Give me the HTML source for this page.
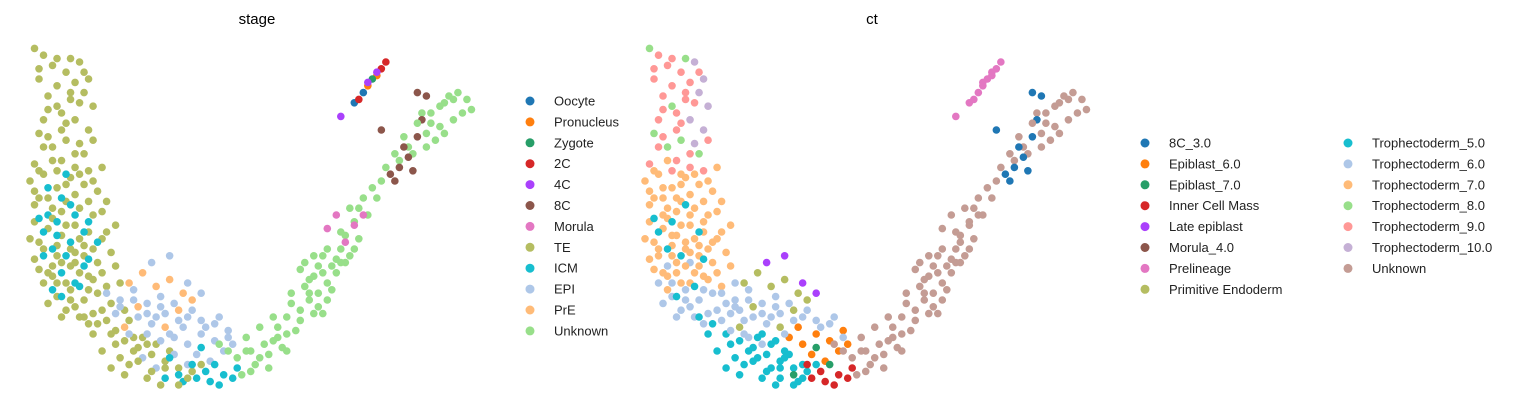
<!DOCTYPE html>
<html><head><meta charset="utf-8"><style>
html,body{margin:0;padding:0;background:#fff;}
svg{display:block;font-family:"Liberation Sans","DejaVu Sans",sans-serif;}
</style></head><body>
<svg id="chart" width="1531" height="411">
<text x="257" y="24" font-size="15" text-anchor="middle" fill="#000">stage</text>
<text x="872" y="24" font-size="15" text-anchor="middle" fill="#000">ct</text>
<g id="p1"></g>
<g id="p2"></g>
<g id="lg1"></g>
<g id="lg2"></g>
</svg>
<script>
const stageCats = ["Oocyte","Pronucleus","Zygote","2C","4C","8C","Morula","TE","ICM","EPI","PrE","Unknown"];
const stageColors = ["#1f77b4","#ff7f0e","#279e68","#d62728","#aa40fc","#8c564b","#e377c2","#b5bd61","#17becf","#aec7e8","#ffbb78","#98df8a"];
const ctCats = ["8C_3.0","Epiblast_6.0","Epiblast_7.0","Inner Cell Mass","Late epiblast","Morula_4.0","Prelineage","Primitive Endoderm","Trophectoderm_5.0","Trophectoderm_6.0","Trophectoderm_7.0","Trophectoderm_8.0","Trophectoderm_9.0","Trophectoderm_10.0","Unknown"];
const ctColors = ["#1f77b4","#ff7f0e","#279e68","#d62728","#aa40fc","#8c564b","#e377c2","#b5bd61","#17becf","#aec7e8","#ffbb78","#98df8a","#ff9896","#c5b0d5","#c49c94"];
// groups: [stage index, ct index, flat list of x,y embedding coordinates]
const groupStage = [7,7,7,7,7,7,8,7,9,9,9,10,8,8,8,11,11,5,0,1,2,3,4,6,9,7,7,7,8,11,7,9];
const groupCt = [12,13,11,12,10,9,10,8,9,1,8,7,3,2,8,14,14,0,6,6,6,6,6,14,4,12,10,9,8,14,8,9];
const groupXY = [
[3,97,5,94,8,92,2,90,6,88,10,89,4,85,9,84,7,80,3,78],
[11,95,13,90,12,86,14,82,10,78,13,75,11,71],
[1,99,9,96,6,82,2,74,8,72,5,70,12,68],
[4,73,7,66,1,65,10,64,13,63],
[0,60,3,62,6,58,9,61,12,59,15,57,2,55,5,52,8,54,11,52,14,50,1,48,4,46,7,44,10,47,13,45,16,43,3,40,6,38,9,40,12,38,15,36,18,39,2,34,5,32,8,30,11,33,14,31,17,29,1,57,17,54,0,43],
[3,30,6,26,9,28,12,25,15,27,18,24,21,22,8,22,11,20,14,21,17,19,20,30,5,35,10,36],
[4,58,7,55,10,50,13,48,6,44,9,42,3,38,12,35,7,33,15,42,5,28,10,30,4,50,8,62],
[12,20,15,18,18,15,21,13,24,11,27,9,30,7,33,5,36,4,16,10,20,8,14,15,25,14,28,12,22,6,31,10],
[17,27,20,25,23,28,26,24,29,26,24,20,27,18,30,21,33,19,36,22,39,17,42,20,19,21],
[32,14,35,12,38,15,41,13,44,16,37,9,40,7,43,10,34,17,45,12],
[26,15,29,13,32,9,35,6,28,5,25,8],
[22,30,25,33,28,29,31,31,34,27,24,23,30,17,33,22,36,25,21,17],
[37,2,40,1,43,3,46,5,39,4,42,0,45,2,36,6],
[33,3,38,11,41,6],
[30,2,34,1,31,8],
[46,8,49,10,52,12,55,14,50,6,53,9,56,11,59,16,57,20,60,22,62,25,58,27,61,29,64,27,66,30,63,32,67,35,60,34,65,38,69,40,68,33,70,44,72,48,71,52,74,55,75,50,73,43,76,58,78,60,82,66,85,68,88,70,90,72,92,74,89,77,94,78,96,80,91,82,98,81,93,85,95,86,87,80,84,70,48,14,44,10,51,17,65,21],
[61,36,63,38,66,40,69,36,71,38,67,28,64,23,54,20,47,3,42,12],
[80,62,82,64,84,67,81,60,83,70,86,73,85,63,87,78,88,85,86,86,78,75],
[72,83,74,86],
[75,88,77,91],
[76,90],
[73,84,78,93,79,95],
[77,92,75,89,69,79],
[66,46,70,42,72,47,74,50,68,50],
[27,36,31,38,35,30,38,27],
[2,93,6,96,4,81,8,77,11,83,3,70,7,75,10,68,14,72,6,63,9,86,12,92],
[1,53,4,55,7,51,10,56,13,54,16,51,19,47,2,42,5,49,8,47,11,43,14,40,17,45,19,35,1,37,4,33,7,36,10,39,13,32,16,33,6,41,9,35,12,41,2,63,5,66,8,59,11,62,14,60,16,64],
[4,24,7,20,10,23,13,18,16,22,19,16,22,19,23,14,26,12,6,30,9,25,13,28],
[3,45,6,48,9,53,12,45,5,40,8,38,2,49,11,29,13,37,7,26],
[48,10,51,8,54,13,57,15,60,19,63,21,58,24,62,31,65,33,68,37,64,35,70,36,72,40,69,45,73,52,77,55,79,64,81,68,83,73,86,77,89,80,92,83,94,84,97,84,91,76,88,74,55,17,57,10,53,5,49,4,62,27,66,25],
[18,5,21,3,24,7,27,4,30,5,33,0,35,2,38,6,26,2,29,0,23,10,19,12],
[20,23,23,25,26,21,29,23,32,24,35,20,38,19,41,18,44,14,22,15,28,20,31,15]
];
const NS="http://www.w3.org/2000/svg";
function xScale(v,left){return left+8+v*4.55*0.99;}
function yScale(v){return 385-v*3.4;}
function drawPanel(gid,left,useCt){
  const g=document.getElementById(gid);
  groupXY.forEach((arr,gi)=>{
    const col = useCt ? ctColors[groupCt[gi]] : stageColors[groupStage[gi]];
    for(let i=0;i<arr.length;i+=2){
      const c=document.createElementNS(NS,"circle");
      c.setAttribute("cx",xScale(arr[i],left));
      c.setAttribute("cy",yScale(arr[i+1]));
      c.setAttribute("r",3.8);
      c.setAttribute("fill",col);
      
      
      g.appendChild(c);
    }
  });
}
drawPanel("p1",22,false);
drawPanel("p2",637,true);
function legend(gid,cats,cols,mx,y0,perCol,colGap){
  const g=document.getElementById(gid);
  cats.forEach((name,i)=>{
    const col=Math.floor(i/perCol), row=i%perCol;
    const x=mx+col*colGap, y=y0+row*20.9;
    const c=document.createElementNS(NS,"circle");
    c.setAttribute("cx",x);c.setAttribute("cy",y);c.setAttribute("r",4.5);c.setAttribute("fill",cols[i]);
    
    
    g.appendChild(c);
    const t=document.createElementNS(NS,"text");
    t.setAttribute("x",x+24);t.setAttribute("y",y+4.5);t.setAttribute("font-size","13");t.setAttribute("fill","#222");
    t.textContent=name;
    
    
    g.appendChild(t);
  });
}
legend("lg1",stageCats,stageColors,530,101,12,0);
legend("lg2",ctCats,ctColors,1145,143,8,203);
</script>
</body></html>
